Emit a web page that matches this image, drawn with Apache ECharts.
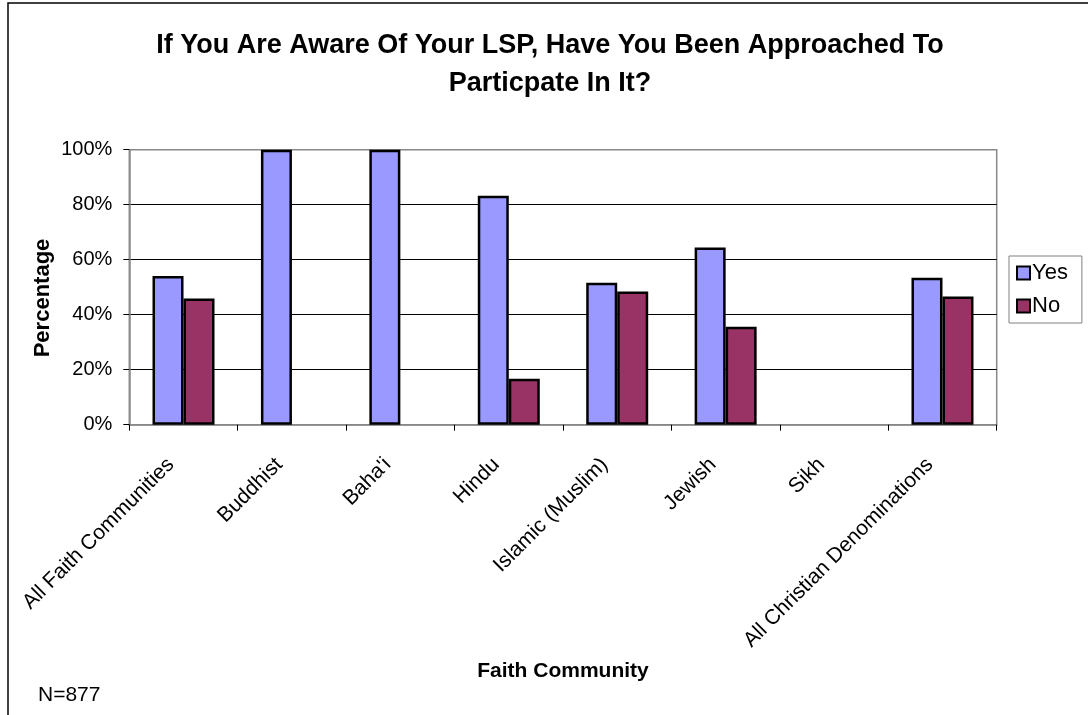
<!DOCTYPE html>
<html>
<head>
<meta charset="utf-8">
<style>
  html, body { margin: 0; padding: 0; background: #ffffff; }
  #chart { width: 1088px; height: 715px; }
</style>
<script src="https://cdn.jsdelivr.net/npm/echarts@6/dist/echarts.min.js"></script>
</head>
<body>
<div id="chart"></div>
<script>
// Survey answers by faith community (percent of respondents)
const categories = [
  'All Faith Communities', 'Buddhist', "Baha'i", 'Hindu',
  'Islamic (Muslim)', 'Jewish', 'Sikh', 'All Christian Denominations'
];
const yesValues = [54.1, 100, 100, 83.3, 51.6, 64.4, 0, 53.4];
const noValues  = [45.9, 0, 0, 16.7, 48.4, 35.6, 0, 46.6];
const yTicks = [0, 20, 40, 60, 80, 100];

const FONT = 'Arial, "Liberation Sans", Helvetica, sans-serif';

// empty answers are left out so no flat bar is drawn on the baseline
const asBars = arr => arr.map(v => (v === 0 ? null : v));

const chart = echarts.init(document.getElementById('chart'), null, { renderer: 'canvas' });

chart.setOption({
  backgroundColor: '#ffffff',
  animation: false,
  textStyle: { fontFamily: FONT, color: '#000' },
  title: {
    text: 'If You Are Aware Of Your LSP, Have You Been Approached To\nParticpate In It?',
    left: 545,
    textAlign: 'center',
    top: 22,
    textStyle: { fontFamily: FONT, fontSize: 27, fontWeight: 'bold', color: '#000', lineHeight: 38 }
  },
  legend: {
    orient: 'vertical',
    left: 1009,
    top: 256,
    icon: 'rect',
    itemWidth: 13,
    itemHeight: 13,
    itemGap: 11,
    padding: [6, 14, 6, 7],
    borderColor: '#808080',
    borderWidth: 1,
    textStyle: { fontFamily: FONT, fontSize: 22, color: '#000', padding: [0, 0, 0, -3] },
    data: ['Yes', 'No']
  },
  grid: {
    left: 129.3,
    right: 91.3,
    top: 149.7,
    bottom: 290.3,
    show: true,
    borderColor: '#888',
    borderWidth: 1.5,
    containLabel: false
  },
  xAxis: {
    type: 'category',
    data: categories,
    boundaryGap: true,
    axisLine: { show: true, lineStyle: { color: '#888', width: 1.5 } },
    axisTick: { show: true, alignWithLabel: false, interval: 0, length: 6, inside: false, lineStyle: { color: '#000', width: 1 } },
    axisLabel: {
      interval: 0,
      rotate: 45,
      margin: 24,
      padding: [0, 18, 0, 0],
      fontFamily: FONT,
      fontSize: 21,
      color: '#000'
    },
    splitLine: { show: false }
  },
  yAxis: {
    type: 'value',
    min: yTicks[0],
    max: yTicks[yTicks.length - 1],
    interval: 20,
    axisLine: { show: true, lineStyle: { color: '#888', width: 1.5 } },
    axisTick: { show: true, length: 6, lineStyle: { color: '#000', width: 1 } },
    axisLabel: {
      formatter: '{value}%',
      margin: 17,
      fontFamily: FONT,
      fontSize: 20,
      color: '#000'
    },
    splitLine: {
      show: true,
      lineStyle: { color: ['#888', '#000', '#000', '#000', '#000', '#888'], width: 1 }
    }
  },
  graphic: [
    {
      type: 'rect',
      silent: true,
      shape: { x: 8, y: 3, width: 1200, height: 800 },
      style: { fill: 'none', stroke: '#000', lineWidth: 1.5 },
      z: 100
    },
    {
      type: 'text',
      x: 43,
      y: 298,
      rotation: Math.PI / 2,
      style: {
        text: 'Percentage',
        fontFamily: FONT,
        fontSize: 22,
        fontWeight: 'bold',
        fill: '#000',
        align: 'center',
        verticalAlign: 'middle'
      }
    },
    {
      type: 'text',
      x: 563,
      y: 671,
      style: {
        text: 'Faith Community',
        fontFamily: FONT,
        fontSize: 21,
        fontWeight: 'bold',
        fill: '#000',
        align: 'center',
        verticalAlign: 'middle'
      }
    },
    {
      type: 'text',
      x: 38,
      y: 695,
      style: {
        text: 'N=877',
        fontFamily: FONT,
        fontSize: 21,
        fill: '#000',
        align: 'left',
        verticalAlign: 'middle'
      }
    }
  ],
  series: [
    {
      name: 'Yes',
      type: 'bar',
      data: asBars(yesValues),
      barWidth: 31,
      barGap: '0%',
      itemStyle: { color: '#9999FF', borderColor: '#000', borderWidth: 2.5 }
    },
    {
      name: 'No',
      type: 'bar',
      data: asBars(noValues),
      barWidth: 31,
      barGap: '0%',
      itemStyle: { color: '#993366', borderColor: '#000', borderWidth: 2.5 }
    }
  ]
});
</script>
</body>
</html>
